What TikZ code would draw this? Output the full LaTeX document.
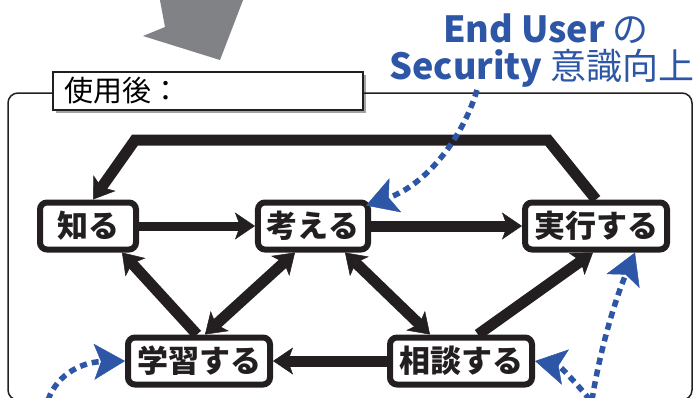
\documentclass[tikz,border=0pt]{standalone}
\usepackage{fontspec}
\setmainfont{Noto Sans CJK JP}
\usetikzlibrary{arrows.meta,shadows}
\definecolor{ink}{HTML}{231F20}
\definecolor{hintblue}{HTML}{2E56A6}
\definecolor{arrowgray}{HTML}{808285}
\tikzset{
  bigtip/.tip={Stealth[length=20pt, width=27pt, inset=5pt, line width=0.5pt]},
  bluetip/.tip={Stealth[length=31pt, width=36pt, inset=7pt, line width=0.5pt]}
}
\begin{document}
\begin{tikzpicture}[x=1pt, y=-1pt,
  act/.style={draw=ink, line width=6pt, rounded corners=7pt, fill=white, minimum height=47pt,
    inner xsep=9pt, inner ysep=0pt, text=ink, font=\bfseries\fontsize{31}{31}\selectfont},
  flow/.style={draw=ink, line width=11pt, -bigtip},
  hint/.style={draw=hintblue, line width=5.5pt, dash pattern=on 7pt off 5pt, -bluetip},
  aim/.style={text=hintblue, anchor=base, font=\fontsize{36}{36}\selectfont}]
  \useasboundingbox (0,0) rectangle (695,397);
  \fill[arrowgray] (159,-5) -- (165,27) -- (143,36) -- (220,60) -- (245,-5) -- cycle;
  \node[draw=ink, line width=1.5pt, fill=white, anchor=west, text width=286pt, inner xsep=12pt,
    minimum height=38pt, font=\fontsize{29}{29}\selectfont,
    drop shadow={shadow xshift=3pt, shadow yshift=-3pt, fill=black!45, opacity=0.8}] (stage) at (52,91) {使用後：};
  \draw[ink, line width=1.5pt, rounded corners=10pt] ([yshift=-2pt]stage.east) -- (692,93) -- (692,400)
    -- (8,400) -- (8,93) -- ([yshift=-2pt]stage.west);
  \node[aim] (aim1) at (546,42) {\textbf{End User} の};
  \node[aim] (aim2) at (542,79) {\textbf{Security} 意識向上};
  \node[act, minimum width=96pt] (know) at (88,226) {知る};
  \node[act] (think) at (313,226) {考える};
  \node[act] (do) at (596,226) {実行する};
  \node[act] (learn) at (199,361) {学習する};
  \node[act] (consult) at (461,361) {相談する};
  \draw[flow, line width=9pt] (know) -- (think);
  \draw[flow] (think) -- (do);
  \draw[flow] (do.north) -- (548,140) -- (135,140) -- ([xshift=5pt]know.north);
  \draw[flow] ([xshift=-2pt]learn.north) -- ([xshift=-17pt]know.south east);
  \draw[flow, bigtip-bigtip] ([xshift=6pt]learn.north) -- ([xshift=-18pt]think.south);
  \draw[flow, bigtip-bigtip] ([xshift=32pt]think.south) -- ([xshift=-31pt]consult.north);
  \draw[flow] ([xshift=17pt]consult.north) -- ([xshift=-3pt]do.south);
  \draw[flow] (consult) -- (learn);
  % blue hints
  \coordinate (hint0) at (477,90);
  \coordinate (hintA) at (48,400);
  \coordinate (hintB) at (590,400);
  \coordinate (hintC) at (592,400);
  \draw[hint] (hint0) .. controls (462,140) and (425,185) .. ([xshift=-5pt, yshift=-6pt]think.north east);
  \draw[hint] (hintA) .. controls (58,372) and (85,362) .. (learn.west);
  \draw[hint] (hintB) .. controls (578,385) and (560,366) .. (consult.east);
  \draw[hint] (hintC) .. controls (600,350) and (615,300) .. ([xshift=39pt]do.south);
\end{tikzpicture}
\end{document}
